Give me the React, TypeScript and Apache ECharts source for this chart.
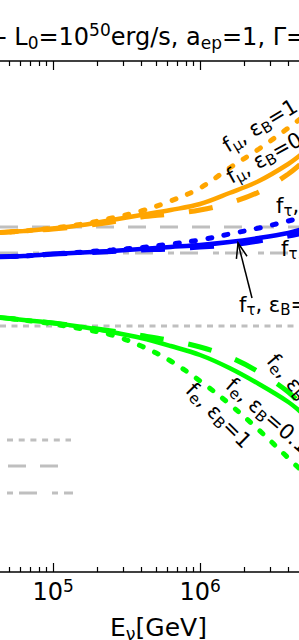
import React, { useEffect, useRef } from "react";
import * as echarts from "echarts";

const FONT = "DejaVu Sans";

// x values: log10(E_nu / GeV)
const logE = [4.6, 4.8, 5.0, 5.2, 5.4, 5.6, 5.8, 6.0, 6.2, 6.4, 6.6, 6.7];

// flavour fractions at Earth
const fMu_eB1 = [0.3476, 0.3484, 0.3496, 0.3512, 0.3536, 0.3564, 0.3604, 0.3656, 0.3736, 0.3812, 0.3896, 0.394];
const fMu_eB01 = [0.3476, 0.3484, 0.3494, 0.3508, 0.3528, 0.3548, 0.3568, 0.3592, 0.3636, 0.3684, 0.3752, 0.3796];
const fMu_eB001 = [0.3476, 0.3484, 0.3492, 0.3504, 0.352, 0.354, 0.3552, 0.3568, 0.3596, 0.364, 0.3712, 0.376];

const fTau_eB1 = [0.338, 0.3384, 0.3392, 0.34, 0.3408, 0.3418, 0.3432, 0.3448, 0.3472, 0.3496, 0.3524, 0.354];
const fTau_eB01 = [0.338, 0.3384, 0.3392, 0.3398, 0.3404, 0.3412, 0.342, 0.3428, 0.344, 0.3456, 0.3476, 0.3492];
const fTau_eB001 = [0.338, 0.3384, 0.3392, 0.3396, 0.3402, 0.3408, 0.3412, 0.342, 0.3428, 0.3444, 0.3464, 0.3476];

const fE_eB1 = [0.314, 0.3128, 0.3112, 0.3092, 0.3068, 0.3024, 0.2964, 0.2884, 0.2792, 0.2688, 0.2576, 0.252];
const fE_eB01 = [0.314, 0.3128, 0.3116, 0.31, 0.308, 0.3056, 0.3024, 0.2988, 0.2936, 0.2872, 0.28, 0.2752];
const fE_eB001 = [0.314, 0.3128, 0.3116, 0.31, 0.3084, 0.3066, 0.3046, 0.302, 0.298, 0.292, 0.284, 0.278];

// reference (standard) flavour ratios
const refMu = 0.35;
const refTau = 0.3396;
const refE = 0.3104;

// axis
const xMin = 4.639;
const xMax = 6.673;
const yMin = 0.212;
const yMax = 0.4164;
const majorTicks = [5, 6];
const minorTickEnergies = [5e4, 6e4, 7e4, 8e4, 9e4, 2e5, 3e5, 4e5, 5e5, 6e5, 7e5, 8e5, 9e5, 2e6, 3e6, 4e6];
const minorTicks = minorTickEnergies.map((e) => Math.log10(e));

const ORANGE = "#FFA500";
const BLUE = "#0000FF";
const GREEN = "#00FF00";
const GRAY = "#bfbfbf";

const SOLID = { width: 4.5, type: "solid" as any, cap: "butt" as any };
const DOTTED = { width: 5, type: [4, 12.5] as any, cap: "round" as any };
const DASHED = { width: 5, type: [24, 25] as any, cap: "butt" as any };

function curve(name: string, ys: number[], color: string, st: any) {
  return {
    type: "line",
    name,
    data: logE.map((x, i) => [x, ys[i]]),
    symbol: "none",
    showSymbol: false,
    smooth: 0.35,
    z: 3,
    lineStyle: { color, width: st.width, type: st.type, cap: st.cap },
  };
}

function refLine(name: string, v: number, type: any) {
  return {
    type: "line",
    name,
    data: [
      [xMin, v],
      [xMax, v],
    ],
    symbol: "none",
    showSymbol: false,
    z: 2,
    lineStyle: { color: GRAY, width: 3, type },
  };
}

const annRich = {
  m: { fontFamily: FONT, fontSize: 21, lineHeight: 25, verticalAlign: "middle", fill: "#000" },
  s: { fontFamily: FONT, fontSize: 15, lineHeight: 10, verticalAlign: "bottom", fill: "#000" },
};

const annotations = [
  { text: "{m|f}{s|μ}{m|, ε}{s|B}{m|=1}", x: 224.5, y: 147, rot: 31 },
  { text: "{m|f}{s|μ}{m|, ε}{s|B}{m|=0.1}", x: 228, y: 178, rot: 29 },
  { text: "{m|f}{s|τ}{m|, ε}{s|B}{m|=1}", x: 276, y: 206, rot: 0 },
  { text: "{m|f}{s|τ}{m|, ε}{s|B}{m|=0.1}", x: 281, y: 249, rot: 0 },
  { text: "{m|f}{s|τ}{m|, ε}{s|B}{m|=0.01}", x: 239, y: 305, rot: 0 },
  { text: "{m|f}{s|e}{m|, ε}{s|B}{m|=1}", x: 189.5, y: 386.5, rot: -45 },
  { text: "{m|f}{s|e}{m|, ε}{s|B}{m|=0.1}", x: 229, y: 382, rot: -41 },
  { text: "{m|f}{s|e}{m|, ε}{s|B}{m|=0.01}", x: 271, y: 357, rot: -50 },
];

function buildOption() {
  const baseX = {
    type: "value",
    min: xMin,
    max: xMax,
    gridIndex: 0,
    splitLine: { show: false },
    axisPointer: { show: false },
  };
  const axisLineStyle = { show: true, onZero: false, lineStyle: { color: "#000", width: 1.5 } };
  const majorTick = { show: true, inside: true, length: 9, lineStyle: { color: "#000", width: 1.2 }, customValues: majorTicks };
  const minorTick = { show: true, inside: true, length: 5, lineStyle: { color: "#000", width: 1.2 }, customValues: minorTicks };

  // arrow geometry
  const tail = [252, 298];
  const tip = [238, 243];
  const dx = tail[0] - tip[0];
  const dy = tail[1] - tip[1];
  const len = Math.hypot(dx, dy);
  const bx = dx / len;
  const by = dy / len;
  const a = (20 * Math.PI) / 180;
  const c = Math.cos(a);
  const s = Math.sin(a);
  const w1 = [tip[0] + 16 * (bx * c - by * s), tip[1] + 16 * (bx * s + by * c)];
  const w2 = [tip[0] + 16 * (bx * c + by * s), tip[1] + 16 * (-bx * s + by * c)];

  const graphics: any[] = [
    {
      type: "text",
      x: -2,
      y: 21.5,
      z: 10,
      style: {
        text: "{m|- L}{s|0}{m|=10}{p|50}{m|erg/s, a}{s|ep}{m|=1, Γ=}",
        align: "left",
        verticalAlign: "top",
        rich: {
          m: { fontFamily: FONT, fontSize: 24, lineHeight: 30, verticalAlign: "middle", fill: "#000" },
          s: { fontFamily: FONT, fontSize: 17, lineHeight: 14, verticalAlign: "bottom", fill: "#000" },
          p: { fontFamily: FONT, fontSize: 17, lineHeight: 14, verticalAlign: "top", fill: "#000" },
        },
      },
    },
    {
      type: "text",
      x: 110,
      y: 612.6,
      z: 10,
      style: {
        text: "{m|E}{s|ν}{m|[GeV]}",
        align: "left",
        verticalAlign: "top",
        rich: {
          m: { fontFamily: FONT, fontSize: 25, lineHeight: 30, verticalAlign: "middle", fill: "#000" },
          s: { fontFamily: FONT, fontSize: 17.5, lineHeight: 14, verticalAlign: "bottom", fill: "#000" },
        },
      },
    },
    // arrow
    { type: "line", z: 10, shape: { x1: tail[0], y1: tail[1], x2: tip[0], y2: tip[1] }, style: { stroke: "#000", lineWidth: 1.5 } },
    { type: "polyline", z: 10, shape: { points: [w1, tip, w2] }, style: { stroke: "#000", lineWidth: 1.5, fill: "none" } },
    // legend handles (labels out of view)
    { type: "line", z: 10, shape: { x1: 7, y1: 440, x2: 71, y2: 440 }, style: { stroke: GRAY, lineWidth: 3, lineDash: [6, 5.7] } },
    { type: "line", z: 10, shape: { x1: 8, y1: 466, x2: 59, y2: 466 }, style: { stroke: GRAY, lineWidth: 3, lineDash: [18, 14] } },
    { type: "line", z: 10, shape: { x1: 7, y1: 493, x2: 73, y2: 493 }, style: { stroke: GRAY, lineWidth: 3, lineDash: [6, 6, 18, 15] } },
  ];

  annotations.forEach((an) => {
    graphics.push({
      type: "text",
      x: an.x,
      y: an.y,
      rotation: (an.rot * Math.PI) / 180,
      z: 10,
      style: { text: an.text, align: "left", verticalAlign: "middle", rich: annRich },
    });
  });

  return {
    animation: false,
    backgroundColor: "#fff",
    grid: { left: 0, right: 0, top: 61, bottom: 68, containLabel: false },
    xAxis: [
      {
        ...baseX,
        position: "bottom",
        axisLine: axisLineStyle,
        axisTick: majorTick,
        axisLabel: {
          show: true,
          customValues: majorTicks,
          margin: 5,
          formatter: (v: number) => "{b|10}{s|" + Math.round(v) + "}",
          rich: {
            b: { fontFamily: FONT, fontSize: 24, lineHeight: 30, verticalAlign: "middle", color: "#000" },
            s: { fontFamily: FONT, fontSize: 17, lineHeight: 14, verticalAlign: "top", color: "#000" },
          },
        },
      },
      { ...baseX, position: "bottom", axisLine: { show: false, onZero: false }, axisTick: minorTick, axisLabel: { show: false } },
      { ...baseX, position: "top", axisLine: axisLineStyle, axisTick: majorTick, axisLabel: { show: false } },
      { ...baseX, position: "top", axisLine: { show: false, onZero: false }, axisTick: minorTick, axisLabel: { show: false } },
    ],
    yAxis: { type: "value", min: yMin, max: yMax, show: false, splitLine: { show: false } },
    series: [
      refLine("ref mu", refMu, [18, 14]),
      refLine("ref tau", refTau, [18, 15, 6, 6]),
      refLine("ref e", refE, [6, 5.5]),
      curve("f_e eB=0.01", fE_eB001, GREEN, DASHED),
      curve("f_e eB=0.1", fE_eB01, GREEN, SOLID),
      curve("f_e eB=1", fE_eB1, GREEN, DOTTED),
      curve("f_mu eB=0.01", fMu_eB001, ORANGE, DASHED),
      curve("f_mu eB=0.1", fMu_eB01, ORANGE, SOLID),
      curve("f_mu eB=1", fMu_eB1, ORANGE, DOTTED),
      curve("f_tau eB=0.01", fTau_eB001, BLUE, DASHED),
      curve("f_tau eB=0.1", fTau_eB01, BLUE, SOLID),
      curve("f_tau eB=1", fTau_eB1, BLUE, DOTTED),
    ],
    graphic: graphics,
  };
}

export default function App() {
  const ref = useRef<HTMLDivElement>(null);
  useEffect(() => {
    document.body.style.margin = "0";
    const chart = echarts.init(ref.current!, undefined, { renderer: "svg" });
    chart.setOption(buildOption() as any);
    return () => chart.dispose();
  }, []);
  return <div ref={ref} style={{ width: 299, height: 640, background: "#fff" }} />;
}
